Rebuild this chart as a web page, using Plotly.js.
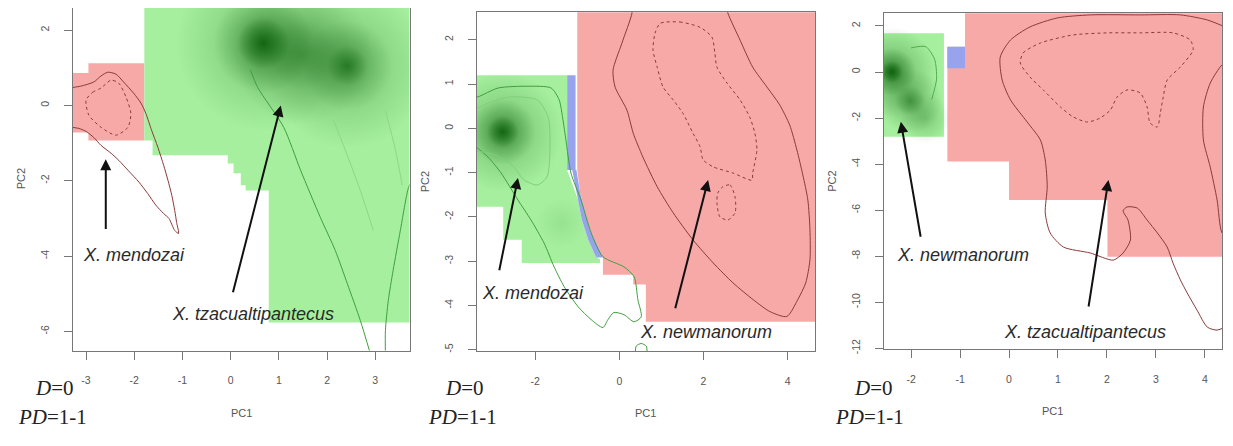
<!DOCTYPE html>
<html><head><meta charset="utf-8">
<script src="https://cdn.plot.ly/plotly-3.0.1.min.js"></script>
<style>html,body{margin:0;padding:0;background:#fff}#chart{width:1233px;height:446px}</style>
</head><body><div id="chart"></div>
<script>
// ================= DATA (PC1 / PC2 values) =================
// ---- Panel 1: X. mendozai (red) vs X. tzacualtipantecus (green) ----
const p1RedX = [-3.4,-2.95,-2.95,-1.79,-1.79,-2.95,-2.95,-3.4];
const p1RedY = [0.86,0.86,1.12,1.12,-0.93,-0.93,-0.72,-0.72];
const p1GreenX = [-1.79,3.8,3.8,0.79,0.79,0.31,0.31,0.21,0.21,0.06,0.06,-0.06,-0.06,-1.62,-1.62,-1.79];
const p1GreenY = [2.7,2.7,-5.76,-5.76,-2.26,-2.26,-2.12,-2.12,-1.80,-1.80,-1.54,-1.54,-1.32,-1.32,-0.93,-0.93];
const p1BlobX = [0.68,1.5,2.42];
const p1BlobY = [1.65,1.35,1.05];
const p1RedOuterX = [-3.31,-3.25,-3.11,-2.84,-2.69,-2.55,-2.38,-2.22,-2.01,-1.86,-1.76,-1.64,-1.51,-1.39,-1.30,-1.22,-1.16,-1.12,-1.08,-1.16,-1.28,-1.39,-1.55,-1.72,-1.90,-2.13,-2.32,-2.48,-2.69,-2.84,-3.00,-3.15,-3.31];
const p1RedOuterY = [0.46,0.48,0.51,0.62,0.78,0.88,0.83,0.62,0.32,0.06,-0.21,-0.66,-1.11,-1.59,-1.99,-2.39,-2.79,-3.11,-3.40,-3.32,-3.00,-2.87,-2.65,-2.34,-2.04,-1.72,-1.46,-1.27,-1.06,-0.85,-0.69,-0.61,-0.58];
const p1RedInnerX = [-3.00,-2.86,-2.69,-2.48,-2.32,-2.17,-2.07,-2.13,-2.38,-2.69,-2.94,-3.00];
const p1RedInnerY = [0.14,0.35,0.46,0.67,0.59,0.22,-0.21,-0.58,-0.79,-0.58,-0.26,0.14];
const p1GreenL1X = [0.41,0.56,1.10,1.45,1.86,2.17,2.42,2.69,2.90];
const p1GreenL1Y = [0.94,0.48,-0.58,-1.72,-2.97,-3.85,-4.73,-5.71,-6.60];
const p1GreenL2X = [3.77,3.69,3.52,3.37,3.27,3.21,3.21];
const p1GreenL2Y = [-1.99,-2.18,-3.32,-4.38,-5.18,-5.98,-6.60];
const p1GreenL3X = [2.13,2.38,2.69,2.96];
const p1GreenL3Y = [-0.39,-1.19,-2.26,-3.32];
const p1GreenL4X = [3.21,3.42,3.56];
const p1GreenL4Y = [-0.13,-1.19,-2.12];
const p1ArrowTailX = [-2.59,0.04], p1ArrowTailY = [-3.32,-5.0];
const p1ArrowHeadX = [-2.59,1.04], p1ArrowHeadY = [-1.43,0.0];
const p1Labels = ["X. mendozai","X. tzacualtipantecus"];
const p1LabelX = [-2.01,0.46], p1LabelY = [-3.98,-5.53];

// ---- Panel 2: X. mendozai (green) vs X. newmanorum (red) ----
const p2RedX = [-1.0,4.8,4.8,0.63,0.63,0.33,0.33,-0.39,-0.39,-0.53,-0.70,-0.81,-0.93,-1.0];
const p2RedY = [2.8,2.8,-4.37,-4.37,-3.53,-3.53,-3.31,-3.31,-2.92,-2.63,-2.29,-1.91,-1.46,-0.94];
const p2GreenX = [-3.5,-1.24,-1.24,-0.98,-0.89,-0.74,-0.55,-0.46,-0.46,-2.32,-2.32,-2.76,-2.76,-3.5];
const p2GreenY = [1.20,1.20,-0.94,-1.62,-2.07,-2.52,-2.92,-2.95,-3.04,-3.04,-2.52,-2.52,-1.77,-1.77];
const p2Blue1X = [-1.24,-1.04,-1.04,-1.24];
const p2Blue1Y = [1.20,1.20,-0.94,-0.94];
const p2Blue2X = [-1.02,-0.93,-0.81,-0.70,-0.53,-0.39,-0.55,-0.74,-0.89,-0.98,-1.12];
const p2Blue2Y = [-0.94,-1.46,-1.91,-2.29,-2.63,-2.92,-2.92,-2.52,-2.07,-1.62,-0.94];
const p2BlobX = [-2.77,-1.38];
const p2BlobY = [-0.08,-2.14];
const p2GreenOuterX = [-3.55,-3.36,-2.88,-2.17,-1.62,-1.43,-1.34,-1.27,-1.15,-0.91,-0.67,-0.39,0.11,0.35,0.44,0.52,0.35,0.11,-0.13,-0.27,-0.39,-0.67,-0.98,-1.31,-1.55,-1.79,-2.10,-2.41,-2.81,-3.12,-3.40,-3.55];
const p2GreenOuterY = [0.68,0.71,0.91,0.95,0.91,0.64,0.19,-0.26,-1.01,-1.62,-2.36,-2.90,-3.13,-3.35,-3.87,-4.26,-4.37,-4.21,-4.16,-4.32,-4.50,-4.32,-4.03,-3.58,-3.13,-2.59,-2.07,-1.62,-1.01,-0.65,-0.42,-0.26];
const p2GreenInnerX = [-3.55,-3.07,-2.60,-1.95,-1.69,-1.65,-1.72,-1.95,-2.26,-2.55,-2.95,-3.55];
const p2GreenInnerY = [0.37,0.59,0.71,0.64,0.25,-0.49,-1.10,-1.28,-1.17,-0.83,-0.60,-0.49];
const p2RedOuterX = [0.30,0.30,0.06,-0.15,-0.10,0.18,0.33,0.56,0.90,1.28,1.75,2.23,2.70,3.18,3.58,3.98,4.24,4.43,4.53,4.53,4.48,4.36,4.22,4.05,3.81,3.51,3.17,2.87,2.58,2.54];
const p2RedOuterY = [2.78,2.60,1.92,1.31,0.93,0.41,-0.11,-0.65,-1.32,-1.91,-2.52,-3.04,-3.49,-3.87,-4.14,-4.25,-3.87,-3.49,-2.97,-2.29,-1.62,-1.05,-0.49,0.07,0.53,0.93,1.38,1.99,2.60,2.78];
const p2RedInnerX = [0.97,1.44,1.92,2.20,2.27,2.32,2.56,2.87,3.10,3.22,3.27,3.17,3.15,2.70,2.23,1.99,1.92,1.75,1.51,1.28,1.04,0.90,0.80,0.85,0.97];
const p2RedInnerY = [2.37,2.40,2.28,2.06,1.70,1.38,1.02,0.64,0.25,-0.11,-0.49,-1.01,-1.17,-1.01,-0.87,-0.71,-0.42,-0.11,0.34,0.64,0.93,1.38,1.77,2.15,2.37];
const p2RedLoopX = [2.46,2.63,2.75,2.75,2.58,2.39,2.32,2.34,2.46];
const p2RedLoopY = [-1.32,-1.28,-1.55,-1.91,-2.07,-2.00,-1.68,-1.46,-1.32];
const p2GreenLoopX = [0.38,0.40,0.52,0.64,0.66];
const p2GreenLoopY = [-5.05,-4.92,-4.86,-4.92,-5.05];
const p2ArrowTailX = [-2.86,1.32], p2ArrowTailY = [-3.24,-4.10];
const p2ArrowHeadX = [-2.41,2.11], p2ArrowHeadY = [-1.12,-1.17];
const p2Labels = ["X. mendozai","X. newmanorum"];
const p2LabelX = [-2.05,2.06], p2LabelY = [-3.71,-4.59];

// ---- Panel 3: X. newmanorum (green) vs X. tzacualtipantecus (red) ----
const p3RedX = [-0.9,4.5,4.5,2.01,2.01,0.0,0.0,-1.26,-1.26,-0.9];
const p3RedY = [2.7,2.7,-8.02,-8.02,-5.56,-5.56,-3.89,-3.89,1.10,1.10];
const p3GreenX = [-2.7,-1.33,-1.33,-2.7];
const p3GreenY = [1.68,1.68,-2.81,-2.81];
const p3BlueX = [-1.26,-0.9,-0.9,-1.26];
const p3BlueY = [1.10,1.10,0.16,0.16];
const p3BlobX = [-2.39,-2.02,-1.72];
const p3BlobY = [0.0,-1.25,-2.0];
const p3RedOuterX = [4.41,4.05,3.50,2.68,1.66,0.99,0.43,0.03,-0.18,-0.14,0.03,0.37,0.64,0.74,0.78,0.74,0.84,1.11,1.66,2.13,2.33,2.48,2.43,2.33,2.41,2.62,2.82,3.03,3.23,3.35,3.50,3.64,3.84,4.05,4.25,4.41];
const p3RedOuterY = [1.96,2.26,2.48,2.48,2.48,2.35,1.96,1.39,0.65,-0.35,-1.21,-2.17,-2.95,-3.82,-4.99,-6.12,-6.99,-7.60,-7.86,-8.17,-7.86,-7.30,-6.43,-6.03,-5.86,-5.91,-6.43,-6.99,-7.60,-8.30,-9.03,-9.60,-10.34,-11.08,-11.21,-11.08];
const p3RedRightX = [4.52,4.35,4.11,3.97,3.97,4.11,4.25,4.35,4.52];
const p3RedRightY = [0.52,0.31,-0.48,-1.52,-2.95,-4.13,-5.56,-6.99,-7.30];
const p3RedInnerX = [0.23,0.29,0.64,1.31,2.01,2.68,3.35,3.70,3.76,3.50,3.23,3.15,3.09,3.03,2.88,2.82,2.68,2.41,2.21,2.07,1.86,1.60,1.31,1.05,0.70,0.43,0.23];
const p3RedInnerY = [0.39,0.83,1.26,1.61,1.70,1.70,1.70,1.39,0.96,0.22,-0.35,-1.08,-1.78,-2.39,-2.21,-1.52,-0.91,-0.78,-1.08,-1.65,-2.00,-2.17,-1.95,-1.52,-0.78,-0.22,0.39];
const p3GreenLineX = [-2.0,-1.7,-1.52,-1.48,-1.58];
const p3GreenLineY = [1.05,1.1,0.55,-0.3,-1.2];
const p3ArrowTailX = [-1.80,1.62], p3ArrowTailY = [-7.22,-10.25];
const p3ArrowHeadX = [-2.21,2.03], p3ArrowHeadY = [-2.16,-4.69];
const p3Labels = ["X. newmanorum","X. tzacualtipantecus"];
const p3LabelX = [-0.95,1.56], p3LabelY = [-7.95,-11.29];

// axis tick values
const p1XTicks = [-3,-2,-1,0,1,2,3], p1YTicks = [-6,-4,-2,0,2];
const p2XTicks = [-2,0,2,4], p2YTicks = [-5,-4,-3,-2,-1,0,1,2];
const p3XTicks = [-2,-1,0,1,2,3,4], p3YTicks = [-12,-10,-8,-6,-4,-2,0,2];
const statD = "<i>D</i>=0", statPD = "<i>PD</i>=1-1";

// ================= STYLES =================
const GREEN = '#a5ef9e', RED = '#f7a9a8', BLUE = '#98a3ee';
const RLINE = '#8a3a3a', GLINE = '#3f9f3f';

const traces = [];
function poly(ax, X, Y, c) {
  traces.push({type:'scatter', mode:'lines', x:X, y:Y, fill:'toself', fillcolor:c,
    line:{width:0, color:c}, xaxis:'x'+ax, yaxis:'y'+ax, hoverinfo:'skip'});
}
function cline(ax, X, Y, c, dash, w) {
  traces.push({type:'scatter', mode:'lines', x:X, y:Y,
    line:{color:c, width:w||1, dash:dash||'solid', shape:'spline', smoothing:0.7},
    xaxis:'x'+ax, yaxis:'y'+ax, hoverinfo:'skip'});
}
function blobs(ax, X, Y, sizes, alphas) {
  traces.push({type:'scatter', mode:'markers', x:X, y:Y, xaxis:'x'+ax, yaxis:'y'+ax, hoverinfo:'skip',
    marker:{size:sizes, color:'rgba(0,85,0,0)', line:{width:0},
      gradient:{type:'radial', color:alphas.map(a => 'rgba(0,85,0,' + a + ')')}}});
}

// panel 1
poly('', p1RedX, p1RedY, RED);
poly('', p1GreenX, p1GreenY, GREEN);
blobs('', p1BlobX, p1BlobY, [175,140,165], [0.4,0.4,0.42]);
blobs('', p1BlobX, p1BlobY, [100,70,90], [0.65,0.3,0.5]);
blobs('', p1BlobX, p1BlobY, [52,1,40], [0.95,0,0.6]);
cline('', p1RedOuterX, p1RedOuterY, RLINE);
cline('', p1RedInnerX, p1RedInnerY, RLINE, 'dot');
cline('', p1GreenL1X, p1GreenL1Y, GLINE);
cline('', p1GreenL2X, p1GreenL2Y, GLINE);
cline('', p1GreenL3X, p1GreenL3Y, '#8fd68a');
cline('', p1GreenL4X, p1GreenL4Y, '#8fd68a');
// panel 2
poly('2', p2RedX, p2RedY, RED);
poly('2', p2GreenX, p2GreenY, GREEN);
poly('2', p2Blue1X, p2Blue1Y, BLUE);
poly('2', p2Blue2X, p2Blue2Y, BLUE);
blobs('2', p2BlobX, p2BlobY, [120,50], [0.45,0.12]);
blobs('2', p2BlobX, p2BlobY, [66,1], [0.7,0]);
blobs('2', p2BlobX, p2BlobY, [32,1], [0.95,0]);
cline('2', p2GreenOuterX, p2GreenOuterY, GLINE);
cline('2', p2GreenInnerX, p2GreenInnerY, '#7fcf7a');
cline('2', p2GreenLoopX, p2GreenLoopY, GLINE);
cline('2', p2RedOuterX, p2RedOuterY, RLINE);
cline('2', p2RedInnerX, p2RedInnerY, RLINE, 'dot');
cline('2', p2RedLoopX, p2RedLoopY, RLINE, 'dot');
// panel 3
poly('3', p3RedX, p3RedY, RED);
poly('3', p3GreenX, p3GreenY, GREEN);
poly('3', p3BlueX, p3BlueY, BLUE);
blobs('3', p3BlobX, p3BlobY, [90,65,50], [0.55,0.5,0.35]);
blobs('3', p3BlobX, p3BlobY, [48,30,1], [0.8,0.45,0]);
blobs('3', p3BlobX, p3BlobY, [22,1,1], [0.95,0,0]);
cline('3', p3GreenLineX, p3GreenLineY, '#4fae4f');
cline('3', p3RedOuterX, p3RedOuterY, RLINE);
cline('3', p3RedRightX, p3RedRightY, RLINE);
cline('3', p3RedInnerX, p3RedInnerY, RLINE, 'dot');

// ================= LAYOUT =================
const W = 1233, H = 446;
const tickFont = {family:'Liberation Sans, Arial, sans-serif', size:10.5, color:'#555'};
function xax(dom, range, ticks, anchor, mirror) {
  return {domain:dom, range:range, tickmode:'array', tickvals:ticks, ticktext:ticks.map(String),
    showline:true, linecolor:'#777', linewidth:1, mirror:mirror, ticks:'outside', ticklen:8,
    tickcolor:'#777', tickfont:tickFont, showgrid:false, zeroline:false, anchor:anchor,
    ticklabelstandoff:12, fixedrange:true};
}
function yax(dom, range, ticks, anchor) {
  return {domain:dom, range:range, tickmode:'array', tickvals:ticks, ticktext:ticks.map(String),
    showline:true, linecolor:'#777', linewidth:1, mirror:true, ticks:'outside', ticklen:8,
    tickcolor:'#777', tickfont:tickFont, tickangle:-90, showgrid:false, zeroline:false,
    anchor:anchor, ticklabelstandoff:11, fixedrange:true};
}
const boxes = [ // [left, right, top, bottom] in px
  [73, 409.5, 8, 350.5], [476.7, 815, 12.3, 351], [883.7, 1222, 13.3, 349]];
const xd = b => [b[0]/W, b[1]/W], yd = b => [1 - b[3]/H, 1 - b[2]/H];

const layout = {
  width:W, height:H, margin:{l:0,r:0,t:0,b:0}, paper_bgcolor:'#fff', plot_bgcolor:'#fff',
  showlegend:false,
  xaxis: xax(xd(boxes[0]), [-3.27,3.71], p1XTicks, 'y', false),
  yaxis: yax(yd(boxes[0]), [-6.505,2.585], p1YTicks, 'x'),
  xaxis2: xax(xd(boxes[1]), [-3.39,4.65], p2XTicks, 'y2', true),
  yaxis2: yax(yd(boxes[1]), [-5.03,2.62], p2YTicks, 'x2'),
  xaxis3: xax(xd(boxes[2]), [-2.56,4.35], p3XTicks, 'y3', true),
  yaxis3: yax(yd(boxes[2]), [-12.03,2.55], p3YTicks, 'x3'),
  annotations: []
};

const ann = layout.annotations;
const lblFont = {family:'Liberation Sans, Arial, sans-serif', size:18, color:'#2a2a2a'};
function addPanel(ax, tX, tY, hX, hY, labels, lX, lY) {
  for (let i = 0; i < tX.length; i++) {
    ann.push({xref:'x'+ax, yref:'y'+ax, axref:'x'+ax, ayref:'y'+ax, x:hX[i], y:hY[i], ax:tX[i], ay:tY[i],
      text:'', showarrow:true, arrowhead:2, arrowsize:1.1, arrowwidth:2, arrowcolor:'#111', standoff:0});
  }
  for (let i = 0; i < labels.length; i++) {
    ann.push({xref:'x'+ax, yref:'y'+ax, x:lX[i], y:lY[i], text:'<i>'+labels[i]+'</i>', showarrow:false,
      font:lblFont, xanchor:'center', yanchor:'middle'});
  }
  ann.push({xref:'x'+ax+' domain', yref:'y'+ax+' domain', x:0.5, y:0, yshift:-62, text:'PC1', showarrow:false,
    font:{family:'Liberation Sans, Arial, sans-serif', size:11, color:'#555'}, yanchor:'middle'});
  ann.push({xref:'x'+ax+' domain', yref:'y'+ax+' domain', x:0, y:0.5, xshift:-52, text:'PC2', showarrow:false,
    textangle:-90, font:{family:'Liberation Sans, Arial, sans-serif', size:11, color:'#555'}, xanchor:'center'});
}
addPanel('', p1ArrowTailX, p1ArrowTailY, p1ArrowHeadX, p1ArrowHeadY, p1Labels, p1LabelX, p1LabelY);
addPanel('2', p2ArrowTailX, p2ArrowTailY, p2ArrowHeadX, p2ArrowHeadY, p2Labels, p2LabelX, p2LabelY);
addPanel('3', p3ArrowTailX, p3ArrowTailY, p3ArrowHeadX, p3ArrowHeadY, p3Labels, p3LabelX, p3LabelY);

const statFont = {family:'Liberation Serif, Times New Roman, serif', size:21, color:'#222'};
[[54,52.5],[464.5,462.7],[873.5,869]].forEach(p => {
  ann.push({xref:'paper', yref:'paper', x:p[0]/W, y:1-388/H, text:statD, showarrow:false, font:statFont,
    xanchor:'center', yanchor:'middle'});
  ann.push({xref:'paper', yref:'paper', x:p[1]/W, y:1-417/H, text:statPD, showarrow:false, font:statFont,
    xanchor:'center', yanchor:'middle'});
});

Plotly.newPlot('chart', traces, layout, {displayModeBar:false, staticPlot:true});
</script></body></html>
